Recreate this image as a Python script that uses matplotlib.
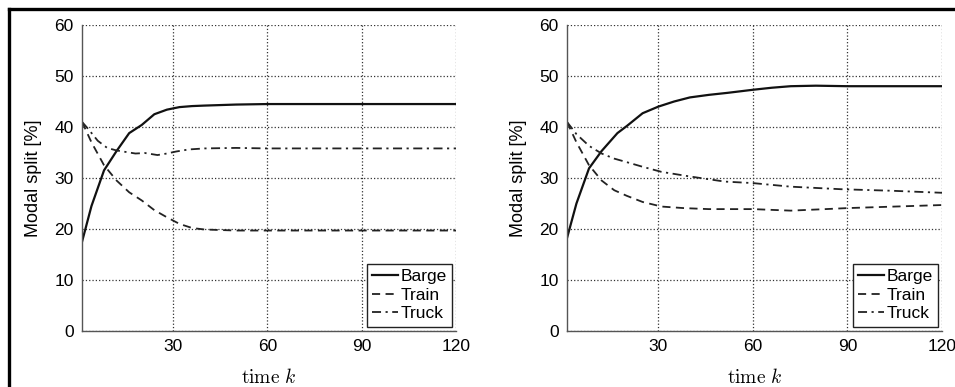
import matplotlib
matplotlib.use('Agg')
import matplotlib.pyplot as plt
from matplotlib.lines import Line2D

plt.rcParams['font.family'] = ['Liberation Sans', 'DejaVu Sans']
plt.rcParams['mathtext.fontset'] = 'cm'

# left panel
k_left_barge = [1, 4, 8, 12, 16, 20, 24, 28, 32, 36, 40, 50, 60, 80, 100, 120]
barge_left = [17.5, 24.5, 31.5, 35.3, 38.8, 40.4, 42.5, 43.4, 43.9, 44.1, 44.2, 44.4, 44.5, 44.5, 44.5, 44.5]
k_left_train = [1, 4, 8, 12, 16, 20, 24, 28, 32, 36, 40, 50, 60, 80, 100, 120]
train_left = [41.0, 37.0, 32.5, 29.5, 27.2, 25.6, 23.7, 22.3, 21.0, 20.2, 19.9, 19.7, 19.7, 19.7, 19.7, 19.7]
k_left_truck = [1, 3, 6, 9, 12, 15, 18, 21, 25, 28, 31, 35, 40, 50, 60, 80, 100, 120]
truck_left = [41.0, 39.6, 37.3, 35.9, 35.4, 35.1, 34.8, 34.9, 34.5, 34.8, 35.2, 35.6, 35.8, 35.9, 35.8, 35.8, 35.8, 35.8]

# right panel
k_right_barge = [1, 4, 8, 12, 17, 20, 25, 30, 35, 40, 46, 52, 60, 66, 72, 80, 90, 100, 110, 120]
barge_right = [18.2, 25.0, 31.9, 35.3, 38.8, 40.2, 42.7, 44.0, 45.0, 45.8, 46.3, 46.7, 47.3, 47.7, 48.0, 48.1, 48.0, 48.0, 48.0, 48.0]
k_right_train = [1, 4, 8, 12, 16, 20, 25, 31, 38, 46, 60, 72, 83, 90, 100, 110, 120]
train_right = [41.0, 37.0, 32.5, 29.5, 27.6, 26.5, 25.3, 24.4, 24.1, 23.9, 23.9, 23.6, 23.9, 24.1, 24.3, 24.5, 24.7]
k_right_truck = [1, 4, 8, 12, 16, 20, 25, 31, 40, 51, 60, 72, 88, 104, 120]
truck_right = [41.0, 38.6, 36.3, 34.8, 33.8, 33.1, 32.2, 31.2, 30.3, 29.3, 29.0, 28.3, 27.8, 27.5, 27.1]

labels = ['Barge', 'Train', 'Truck']
xticks = [30, 60, 90, 120]
yticks = [0, 10, 20, 30, 40, 50, 60]

fig = plt.figure(figsize=(9.55, 3.87), dpi=100)
ax1 = fig.add_axes([0.0859, 0.1447, 0.3916, 0.7907])
ax2 = fig.add_axes([0.5937, 0.1447, 0.3927, 0.7907])

panels = [
    (ax1, k_left_barge, barge_left, k_left_train, train_left, k_left_truck, truck_left),
    (ax2, k_right_barge, barge_right, k_right_train, train_right, k_right_truck, truck_right),
]

for ax, kb, b, kt, t, kk, tr in panels:
    ax.plot(kb, b, color='#111111', lw=1.6, ls='-', label=labels[0])
    ax.plot(kt, t, color='#222222', lw=1.3, ls=(0, (4.5, 3)), label=labels[1])
    ax.plot(kk, tr, color='#222222', lw=1.3, ls=(0, (5, 2.5, 1.2, 2.5)), label=labels[2])
    ax.set_xlim(1, 120)
    ax.set_ylim(0, 60)
    ax.set_xticks(xticks)
    ax.set_yticks(yticks)
    ax.grid(True, ls=':', color='#333333', lw=0.9)
    ax.tick_params(length=0, labelsize=12.5, pad=6)
    for s in ['top', 'right']:
        ax.spines[s].set_visible(False)
    for s in ['left', 'bottom']:
        ax.spines[s].set_color('#555555')
        ax.spines[s].set_linewidth(1.0)
    ax.set_ylabel('Modal split [%]', fontsize=13, labelpad=9)
    ax.set_xlabel(r'$\mathrm{time}\ k$', fontsize=14, labelpad=10)
    leg = ax.legend(loc='lower right', fontsize=12.5, fancybox=False, edgecolor='#222222',
                    framealpha=1, borderpad=0.3, handlelength=1.5, handletextpad=0.1,
                    labelspacing=0.2, borderaxespad=0.25)
    leg.get_frame().set_linewidth(1.0)

# outer frame (top and left edges)
fig.add_artist(Line2D([0.009, 1.0], [0.978, 0.978], transform=fig.transFigure, color='black', lw=2.4))
fig.add_artist(Line2D([0.009, 0.009], [0.0, 0.978], transform=fig.transFigure, color='black', lw=2.4))

fig.savefig('out.png', dpi=100)
